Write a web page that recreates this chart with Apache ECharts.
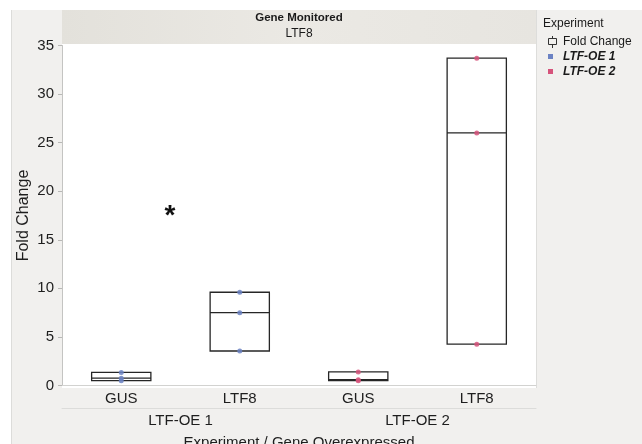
<!DOCTYPE html>
<html>
<head>
<meta charset="utf-8">
<script src="https://cdn.jsdelivr.net/npm/echarts@6/dist/echarts.min.js"></script>
<style>
  html, body { margin: 0; padding: 0; background: #ffffff; }
  #chart { width: 642px; height: 444px; }
</style>
</head>
<body>
<div id="chart"></div>
<script>
// Experiments (outer x grouping) and overexpressed genes (inner x categories)
const experiments = ['LTF-OE 1', 'LTF-OE 2'];
const genes = ['GUS', 'LTF8'];

// Fold change of the monitored gene (LTF8), three replicates per group
const oe1Gus  = [1.35, 0.75, 0.5];
const oe1Ltf8 = [9.6, 7.5, 3.55];
const oe2Gus  = [1.4, 0.6, 0.5];
const oe2Ltf8 = [33.7, 26.0, 4.25];

// Y axis ticks
const yMin = 0, yMax = 35, yStep = 5;

const groups = [
  { exp: experiments[0], gene: genes[0], values: oe1Gus },
  { exp: experiments[0], gene: genes[1], values: oe1Ltf8 },
  { exp: experiments[1], gene: genes[0], values: oe2Gus },
  { exp: experiments[1], gene: genes[1], values: oe2Ltf8 }
];
const categories = groups.map(g => g.exp + '|' + g.gene);

// quantile at position p(n+1), clamped to the data range
function quantile(sorted, p) {
  const n = sorted.length;
  const pos = p * (n + 1);
  if (pos <= 1) return sorted[0];
  if (pos >= n) return sorted[n - 1];
  const lo = Math.floor(pos), f = pos - lo;
  return sorted[lo - 1] + f * (sorted[lo] - sorted[lo - 1]);
}
function boxStats(values) {
  const s = values.slice().sort((a, b) => a - b);
  const q1 = quantile(s, 0.25), med = quantile(s, 0.5), q3 = quantile(s, 0.75);
  const iqr = q3 - q1;
  const lowW = s.find(v => v >= q1 - 1.5 * iqr);
  const highW = s.slice().reverse().find(v => v <= q3 + 1.5 * iqr);
  return [lowW, q1, med, q3, highW];
}

const boxData = groups.map(g => boxStats(g.values));
function pointsFor(exp) {
  const out = [];
  groups.forEach((g, i) => {
    if (g.exp === exp) g.values.forEach(v => out.push([categories[i], v]));
  });
  return out;
}

const colorOE1 = '#6b82c3';
const colorOE2 = '#d6537b';
const FONT = 'Liberation Sans, Arial, Helvetica, sans-serif';

const chart = echarts.init(document.getElementById('chart'), null, { renderer: 'canvas' });

chart.setOption({
  animation: false,
  backgroundColor: '#f1f0ee',
  textStyle: { fontFamily: FONT },
  grid: { left: 62, right: 106, top: 45.5, bottom: 58.5, containLabel: false, outerBoundsMode: 'none' },
  xAxis: [
    {
      type: 'category',
      data: categories,
      axisLine: { show: true, lineStyle: { color: '#d2d2d0', width: 1 } },
      axisTick: { show: false },
      axisLabel: {
        formatter: v => v.split('|')[1],
        fontSize: 15, color: '#1e1e1e', margin: 6, fontFamily: FONT
      },
      splitLine: { show: false }
    },
    {
      type: 'category',
      data: experiments,
      position: 'bottom',
      offset: 23,
      axisLine: { show: true, lineStyle: { color: '#dcdcda', width: 1 } },
      axisTick: { show: false },
      axisLabel: { fontSize: 15, color: '#1e1e1e', margin: 5, fontFamily: FONT },
      name: 'Experiment / Gene Overexpressed',
      nameLocation: 'middle',
      nameGap: 27,
      nameTextStyle: { fontSize: 15, color: '#1e1e1e', fontFamily: FONT }
    }
  ],
  yAxis: {
    type: 'value',
    min: yMin, max: yMax, interval: yStep,
    axisLine: { show: true, lineStyle: { color: '#c4c4c2', width: 1 } },
    axisTick: { show: true, length: 4, lineStyle: { color: '#b8b8b6' } },
    axisLabel: { fontSize: 15, color: '#1e1e1e', margin: 8, fontFamily: FONT },
    splitLine: { show: false },
    name: 'Fold Change',
    nameLocation: 'middle',
    nameGap: 30,
    nameMoveOverlap: false,
    nameTextStyle: { fontSize: 16, color: '#1e1e1e', fontFamily: FONT }
  },
  series: [
    {
      name: 'Fold Change',
      type: 'boxplot',
      xAxisIndex: 0,
      data: boxData,
      boxWidth: ['50%', '50%'],
      itemStyle: { color: 'rgba(255,255,255,0)', borderColor: '#262626', borderWidth: 1.3 },
      z: 3
    },
    {
      name: experiments[0],
      type: 'scatter',
      xAxisIndex: 0,
      data: pointsFor(experiments[0]),
      symbolSize: 5,
      itemStyle: { color: colorOE1, opacity: 0.85 },
      z: 4
    },
    {
      name: experiments[1],
      type: 'scatter',
      xAxisIndex: 0,
      data: pointsFor(experiments[1]),
      symbolSize: 5,
      itemStyle: { color: colorOE2, opacity: 0.85 },
      z: 4
    }
  ],
  graphic: [
    // white margins on top and left
    { type: 'rect', z: -10, shape: { x: 0, y: 0, width: 642, height: 10 }, style: { fill: '#ffffff' } },
    { type: 'rect', z: -10, shape: { x: 0, y: 0, width: 11, height: 444 }, style: { fill: '#ffffff' } },
    { type: 'line', z: -9, shape: { x1: 11.5, y1: 10, x2: 11.5, y2: 444 }, style: { stroke: '#dcdcda', lineWidth: 1 } },
    // plot panel
    { type: 'rect', z: -8, shape: { x: 62, y: 44, width: 474, height: 344 }, style: { fill: '#ffffff' } },
    { type: 'line', z: -7, shape: { x1: 536.5, y1: 10, x2: 536.5, y2: 388 }, style: { stroke: '#dddddb', lineWidth: 1 } },
    // header band for the monitored gene
    {
      type: 'rect', z: -8, shape: { x: 62, y: 10, width: 474, height: 34 },
      style: {
        fill: new echarts.graphic.LinearGradient(0, 0, 1, 0, [
          { offset: 0, color: '#e3e1db' },
          { offset: 0.5, color: '#ebe9e4' },
          { offset: 1, color: '#e7e5e0' }
        ])
      }
    },
    { type: 'text', z: 20, style: { x: 299, y: 18, text: 'Gene Monitored', fontSize: 11.5, fontWeight: 'bold', fontFamily: FONT, fill: '#1a1a1a', align: 'center', verticalAlign: 'middle' } },
    { type: 'text', z: 20, style: { x: 299, y: 34, text: genes[1], fontSize: 12, fontFamily: FONT, fill: '#1a1a1a', align: 'center', verticalAlign: 'middle' } },
    // significance mark
    { type: 'text', z: 20, style: { x: 170, y: 216, text: '*', fontSize: 28, fontWeight: 'bold', fontFamily: FONT, fill: '#111', align: 'center', verticalAlign: 'middle' } },
    // legend
    { type: 'text', z: 20, style: { x: 543, y: 24, text: 'Experiment', fontSize: 12, fontFamily: FONT, fill: '#1a1a1a', verticalAlign: 'middle' } },
    { type: 'line', z: 20, shape: { x1: 552.5, y1: 36, x2: 552.5, y2: 48 }, style: { stroke: '#333', lineWidth: 1 } },
    { type: 'rect', z: 21, shape: { x: 548.5, y: 38.5, width: 8, height: 6 }, style: { fill: '#f1f0ee', stroke: '#333', lineWidth: 1 } },
    { type: 'text', z: 20, style: { x: 563, y: 42, text: 'Fold Change', fontSize: 12, fontFamily: FONT, fill: '#1a1a1a', verticalAlign: 'middle' } },
    { type: 'rect', z: 20, shape: { x: 548, y: 54, width: 5, height: 5 }, style: { fill: colorOE1 } },
    { type: 'text', z: 20, style: { x: 563, y: 57, text: experiments[0], fontSize: 12, fontWeight: 'bold', fontStyle: 'italic', fontFamily: FONT, fill: '#1a1a1a', verticalAlign: 'middle' } },
    { type: 'rect', z: 20, shape: { x: 548, y: 69, width: 5, height: 5 }, style: { fill: colorOE2 } },
    { type: 'text', z: 20, style: { x: 563, y: 72, text: experiments[1], fontSize: 12, fontWeight: 'bold', fontStyle: 'italic', fontFamily: FONT, fill: '#1a1a1a', verticalAlign: 'middle' } }
  ]
});
</script>
</body>
</html>
